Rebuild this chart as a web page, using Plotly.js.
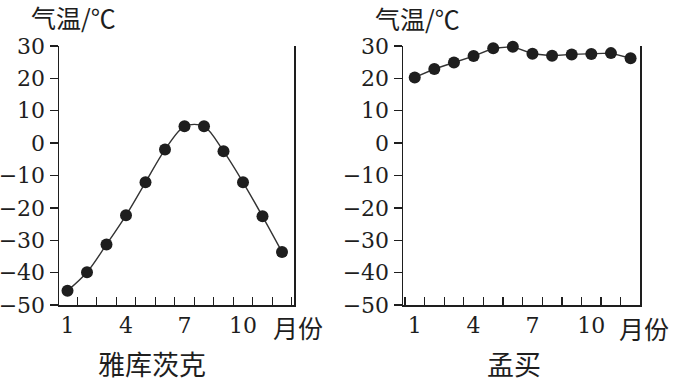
<!DOCTYPE html>
<html>
<head>
<meta charset="utf-8">
<script src="https://cdn.plot.ly/plotly-3.0.1.min.js"></script>
<style>
html,body{margin:0;padding:0;background:#fff;}
#chart{width:673px;height:382px;}
</style>
</head>
<body>
<div id="chart"></div>
<script>
const months = [1,2,3,4,5,6,7,8,9,10,11,12];
const yakutskTemps = [-45.6,-39.9,-31.3,-22.3,-12.1,-2.0,5.2,5.2,-2.5,-12.1,-22.6,-33.6];
const mumbaiTemps = [20.3,22.9,24.9,26.9,29.3,29.8,27.6,27.0,27.4,27.5,27.8,26.2];
const xTickVals = [1,4,7,10];
const xTickText = ['1','4','7','10'];
const cityNames = ['雅库茨克','孟买'];
const yTitle = '气温/℃';
const xTitle = '月份';

const W = 673, H = 382;
const px = v => v / W;
const py = v => 1 - v / H;

const ink = '#1e1e1e';
const serif = '"DejaVu Serif", serif';
const cjk = 'Noto Sans CJK SC';

const traceBase = {
  type: 'scatter',
  mode: 'lines+markers',
  marker: {size: 12, color: ink},
  line: {color: '#333', width: 1.4},
  cliponaxis: false,
  hoverinfo: 'skip'
};

const data = [
  Object.assign({}, traceBase, {x: months, y: yakutskTemps, xaxis: 'x', yaxis: 'y',
    line: {color: '#333', width: 1.4, shape: 'spline', smoothing: 0.9}}),
  Object.assign({}, traceBase, {x: months, y: mumbaiTemps, xaxis: 'x2', yaxis: 'y2'})
];

function xAxis(domain, range, anchor) {
  return {
    domain: domain, range: range, anchor: anchor,
    showline: true, linecolor: ink, linewidth: 1.5,
    showgrid: false, zeroline: false,
    tickmode: 'array', tickvals: xTickVals, ticktext: xTickText,
    ticks: '', ticklabelstandoff: 0,
    tickfont: {family: serif, size: 22, color: ink},
    minor: {tick0: 1.5, dtick: 1, ticks: 'inside', ticklen: 8, tickwidth: 1.3, tickcolor: ink, showgrid: false},
    fixedrange: true
  };
}
function yAxis(domain, anchor) {
  return {
    domain: domain, range: [-50, 30], anchor: anchor,
    showline: true, linecolor: ink, linewidth: 1.5, mirror: true,
    showgrid: false, zeroline: false,
    tick0: 0, dtick: 10, ticks: 'outside', ticklen: 8, tickwidth: 1.3, tickcolor: ink,
    tickfont: {family: serif, size: 22, color: ink},
    fixedrange: true
  };
}

const yDom = [py(305), py(46)];

const annFont = {family: cjk, size: 25, color: ink};
const layout = {
  width: W, height: H,
  margin: {l: 0, r: 0, t: 0, b: 0},
  paper_bgcolor: '#fff', plot_bgcolor: '#fff',
  showlegend: false,
  xaxis: xAxis([px(59), px(294)], [0.564, 12.615], 'y'),
  yaxis: yAxis(yDom, 'x'),
  xaxis2: xAxis([px(403), px(640)], [0.403, 12.48], 'y2'),
  yaxis2: yAxis(yDom, 'x2'),
  annotations: [
    {text: yTitle, xref: 'paper', yref: 'paper', x: px(73), y: py(17), showarrow: false, xanchor: 'center', yanchor: 'middle', font: annFont},
    {text: yTitle, xref: 'paper', yref: 'paper', x: px(417), y: py(18), showarrow: false, xanchor: 'center', yanchor: 'middle', font: annFont},
    {text: xTitle, xref: 'paper', yref: 'paper', x: px(298), y: py(327), showarrow: false, xanchor: 'center', yanchor: 'middle', font: annFont},
    {text: xTitle, xref: 'paper', yref: 'paper', x: px(644), y: py(328), showarrow: false, xanchor: 'center', yanchor: 'middle', font: annFont},
    {text: cityNames[0], xref: 'paper', yref: 'paper', x: px(152), y: py(363), showarrow: false, xanchor: 'center', yanchor: 'middle', font: {family: cjk, size: 27, color: ink}},
    {text: cityNames[1], xref: 'paper', yref: 'paper', x: px(514), y: py(363), showarrow: false, xanchor: 'center', yanchor: 'middle', font: {family: cjk, size: 27, color: ink}}
  ]
};

Plotly.newPlot('chart', data, layout, {staticPlot: true, displayModeBar: false});
</script>
</body>
</html>
